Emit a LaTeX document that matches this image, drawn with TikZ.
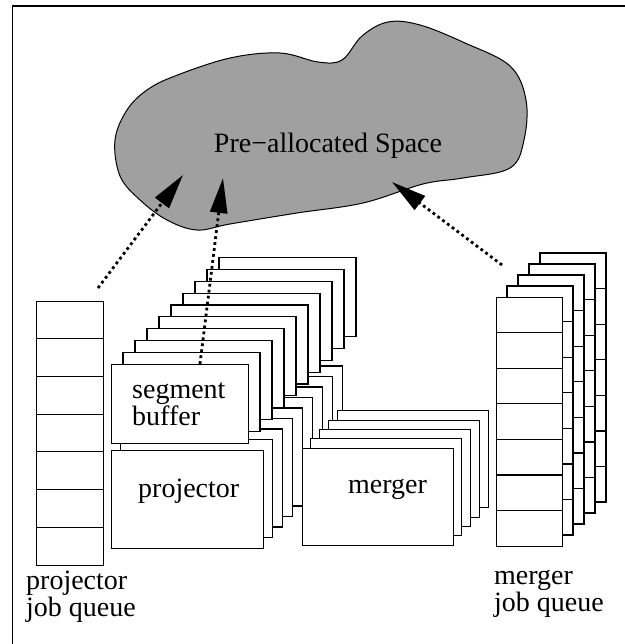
\documentclass[tikz,border=0pt]{standalone}
\usepackage{fontspec}
\setmainfont{Liberation Serif}
\usetikzlibrary{arrows.meta}

\definecolor{spacegray}{RGB}{160,160,160}

\tikzset{
  card/.style={draw, fill=white, line width=1.1pt, inner sep=0pt},
  slot/.style={line width=1.1pt},
  txt/.style={anchor=base west, inner sep=0pt},
  feed/.style={line width=2.8pt, dash pattern=on 2.8pt off 3.2pt,
    -{Triangle[length=35pt, width=17pt]}},
}

\begin{document}
\begin{tikzpicture}[x=1pt, y=-1pt, font=\fontsize{28}{28}\selectfont]
\useasboundingbox (0,0) rectangle (624,644);
% frame, open at the right and bottom
\draw[line width=1.2pt] (12.5,660) -- (12.5,6) -- (640,6);

% the shared space
\draw[line width=1pt, fill=spacegray] plot[smooth cycle, tension=0.6] coordinates {
  (115,140) (127,110) (147,90) (175,76) (230,58) (280,53) (318,62) (342,60)
  (362,36) (388,22) (420,25) (465,43) (510,66) (526,100) (524,140) (510,168)
  (463,178) (423,184) (363,203) (297,213) (230,224) (197,230) (167,220)
  (140,200) (120,176)};
\node (space) at (328,146) {Pre−allocated Space};

% projector stack
\foreach \k in {8,7,...,1}
  \draw[card] ({111+9.9*\k},{450-10.5*\k}) rectangle +(152,98);
\node[card, anchor=north west, minimum width=152pt, minimum height=98pt] (proj) at (111,450) {};
\node[txt] (projtxt) at (138,497) {projector};

% segment buffer stack
\foreach \k in {9,8,...,1}
  \draw[card] ({111+12*\k},{364-11.8*\k}) rectangle +(137,79);
\node[card, anchor=north west, minimum width=137pt, minimum height=79pt] (segbuf) at (111,364) {};
\node[txt] (segtxt1) at (132,398) {segment};
\node[txt] (segtxt2) at (132,425) {buffer};

% merger stack
\foreach \k in {4,3,2,1}
  \draw[card] ({302+8.8*\k},{448-9.3*\k}) rectangle +(151,97);
\node[card, anchor=north west, minimum width=151pt, minimum height=97pt] (merger) at (302,448) {};
\node[txt] (mergetxt) at (348,493) {merger};

% projector job queue
\node[card, anchor=north west, minimum width=67pt, minimum height=264pt] (projq) at (36,301) {};
\foreach \j in {1,...,6}
  \draw[slot] (36,{301+37.7*\j}) -- +(67,0);
\node[txt] (pqtxt1) at (26,589) {projector};
\node[txt] (pqtxt2) at (26,616) {job queue};

% merger job queues
\foreach \k in {4,3,2,1} {
  \draw[card] ({496+11*\k},{297-11*\k}) rectangle +(66,249);
  \foreach \j in {1,...,6}
    \draw[slot] ({496+11*\k},{297-11*\k+35.6*\j}) -- +(66,0);
}
\node[card, anchor=north west, minimum width=66pt, minimum height=249pt] (mergeq) at (496,297) {};
\foreach \j in {1,...,6}
  \draw[slot] (496,{297+35.6*\j}) -- +(66,0);
\node[txt] (mqtxt1) at (494,584) {merger};
\node[txt] (mqtxt2) at (494,611) {job queue};

% writes into the space
\coordinate (pq-out) at (98,288);
\coordinate (sb-out) at (200,364);
\coordinate (mq-out) at (502,265);
\coordinate (in-a) at (183,175);
\coordinate (in-b) at (223,178);
\coordinate (in-c) at (392,182);
\draw[feed] (pq-out) -- (in-a);
\draw[feed] (sb-out) -- (in-b);
\draw[feed] (mq-out) -- (in-c);
\end{tikzpicture}
\end{document}
